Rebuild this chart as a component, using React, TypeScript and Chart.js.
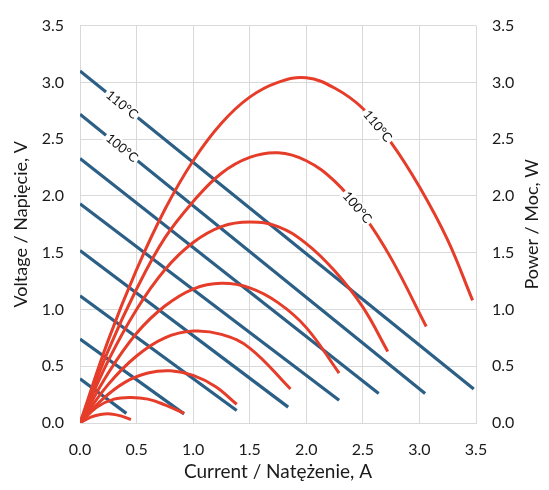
import React, { useEffect, useRef } from "react";
import { Chart, registerables } from "chart.js";

Chart.register(...registerables);

// Voltage lines: [current A, voltage V]
const voltageLine1 = [[0, 3.10], [3.48, 0.30]];
const voltageLine2 = [[0, 2.72], [3.05, 0.26]];
const voltageLine3 = [[0, 2.33], [2.64, 0.26]];
const voltageLine4 = [[0, 1.93], [2.29, 0.20]];
const voltageLine5 = [[0, 1.52], [1.84, 0.14]];
const voltageLine6 = [[0, 1.12], [1.385, 0.11]];
const voltageLine7 = [[0, 0.74], [0.92, 0.08]];
const voltageLine8 = [[0, 0.39], [0.41, 0.085]];

// Power curves: [current A, power W]
const powerCurve1 = [[0, 0], [0.25, 0.73], [0.5, 1.35], [0.75, 1.88], [1.0, 2.31], [1.25, 2.64], [1.5, 2.87], [1.75, 3.0], [2.0, 3.04], [2.25, 2.95], [2.5, 2.77], [2.75, 2.47], [3.0, 2.08], [3.25, 1.61], [3.47, 1.08]];
const powerCurve2 = [[0, 0], [0.25, 0.64], [0.5, 1.18], [0.75, 1.63], [1.0, 1.95], [1.25, 2.2], [1.5, 2.34], [1.75, 2.38], [2.0, 2.31], [2.25, 2.13], [2.5, 1.84], [2.75, 1.45], [3.06, 0.85]];
const powerCurve3 = [[0, 0], [0.25, 0.55], [0.5, 1.0], [0.75, 1.35], [1.0, 1.59], [1.25, 1.73], [1.5, 1.77], [1.75, 1.73], [2.0, 1.58], [2.25, 1.34], [2.5, 1.02], [2.72, 0.63]];
const powerCurve4 = [[0, 0], [0.25, 0.44], [0.5, 0.79], [0.75, 1.03], [1.0, 1.18], [1.25, 1.23], [1.5, 1.19], [1.75, 1.06], [2.0, 0.84], [2.29, 0.44]];
const powerCurve5 = [[0, 0], [0.25, 0.34], [0.5, 0.59], [0.75, 0.75], [1.0, 0.81], [1.25, 0.78], [1.5, 0.66], [1.86, 0.30]];
const powerCurve6 = [[0, 0], [0.2, 0.21], [0.4, 0.36], [0.6, 0.44], [0.8, 0.46], [1.0, 0.42], [1.2, 0.32], [1.385, 0.165]];
const powerCurve7 = [[0, 0], [0.15, 0.14], [0.3, 0.21], [0.45, 0.225], [0.6, 0.21], [0.75, 0.16], [0.92, 0.085]];
const powerCurve8 = [[0, 0], [0.09, 0.05], [0.18, 0.075], [0.27, 0.08], [0.36, 0.063], [0.45, 0.03]];

const voltageLines = [voltageLine1, voltageLine2, voltageLine3, voltageLine4, voltageLine5, voltageLine6, voltageLine7, voltageLine8];
const powerCurves = [powerCurve1, powerCurve2, powerCurve3, powerCurve4, powerCurve5, powerCurve6, powerCurve7, powerCurve8];

// Curve labels: text, dataset index, current at label centre
const curveLabelTexts = ["110°C", "100°C", "110°C", "100°C"];
const curveLabelDatasets = [0, 1, 8, 9];
const curveLabelCurrents = [0.37, 0.37, 2.63, 2.45];

const axisTitleX = "Current / Natężenie, A";
const axisTitleY = "Voltage / Napięcie, V";
const axisTitleY2 = "Power / Moc, W";

const FONT = "Lato, 'Open Sans', sans-serif";
const BLUE = "#2c5f86";
const RED = "#e63d2a";
const GRID = "#d9d9d9";
const TEXT = "#1a1a1a";

const toPts = (arr: number[][]) => arr.map(([x, y]) => ({ x, y }));

const labelPlugin = {
  id: "curveLabels",
  afterDatasetsDraw(chart: any) {
    const ctx = chart.ctx;
    curveLabelTexts.forEach((text, i) => {
      const ds = chart.data.datasets[curveLabelDatasets[i]];
      const xs = chart.scales.x;
      const ys = chart.scales[ds.yAxisID || "y"];
      const data = ds.data as { x: number; y: number }[];
      const cx = curveLabelCurrents[i];
      let k = 0;
      while (k < data.length - 2 && data[k + 1].x < cx) k++;
      const a = data[k], b = data[k + 1];
      const t = (cx - a.x) / (b.x - a.x);
      const cy = a.y + t * (b.y - a.y);
      const px = xs.getPixelForValue(cx);
      const py = ys.getPixelForValue(cy);
      const ang = Math.atan2(ys.getPixelForValue(b.y) - ys.getPixelForValue(a.y), xs.getPixelForValue(b.x) - xs.getPixelForValue(a.x));
      ctx.save();
      ctx.translate(px, py);
      ctx.rotate(ang);
      ctx.font = `13px ${FONT}`;
      const w = ctx.measureText(text).width;
      ctx.fillStyle = "#ffffff";
      ctx.fillRect(-w / 2 - 2, -7, w + 4, 14);
      ctx.fillStyle = "#111";
      ctx.textAlign = "center";
      ctx.textBaseline = "middle";
      ctx.fillText(text, 0, 0);
      ctx.restore();
    });
  },
  afterDraw(chart: any) {
    const ctx = chart.ctx;
    const s = chart.scales.y2;
    const ca = chart.chartArea;
    ctx.save();
    ctx.translate(s.right - 17, (ca.top + ca.bottom) / 2);
    ctx.rotate(-Math.PI / 2);
    ctx.font = `18px ${FONT}`;
    ctx.fillStyle = TEXT;
    ctx.textAlign = "center";
    ctx.textBaseline = "middle";
    ctx.fillText(axisTitleY2, 0, 0);
    ctx.restore();
  },
};

export default function App() {
  const ref = useRef<HTMLCanvasElement>(null);
  useEffect(() => {
    document.body.style.margin = "0";
    const datasets: any[] = [];
    voltageLines.forEach((l) =>
      datasets.push({
        data: toPts(l),
        borderColor: BLUE,
        borderWidth: 3.2,
        pointRadius: 0,
        showLine: true,
        yAxisID: "y",
        borderCapStyle: "butt",
        order: 2,
      })
    );
    powerCurves.forEach((c) =>
      datasets.push({
        data: toPts(c),
        borderColor: RED,
        borderWidth: 3,
        pointRadius: 0,
        showLine: true,
        yAxisID: "y2",
        tension: 0.4,
        order: 1,
      })
    );
    const tickFont = { family: FONT, size: 16 };
    const fmt = (v: any) => Number(v).toFixed(1);
    const chart = new Chart(ref.current!, {
      type: "scatter",
      data: { datasets },
      plugins: [labelPlugin],
      options: {
        animation: false,
        responsive: false,
        layout: { padding: { top: 22, left: 0, right: 0, bottom: 0 } },
        plugins: { legend: { display: false }, tooltip: { enabled: false } },
        scales: {
          x: {
            type: "linear",
            min: 0,
            max: 3.5,
            ticks: { stepSize: 0.5, callback: fmt, font: tickFont, color: TEXT, padding: 17, maxRotation: 0 },
            grid: { color: GRID, drawTicks: false },
            border: { color: GRID },
            title: { display: true, text: axisTitleX, font: { family: FONT, size: 19 }, color: TEXT, padding: { top: 0, bottom: 7 } },
            afterFit: (s: any) => { s.height = 67; },
          },
          y: {
            type: "linear",
            position: "left",
            min: 0,
            max: 3.5,
            ticks: { stepSize: 0.5, callback: fmt, font: tickFont, color: TEXT, padding: 16 },
            grid: { color: GRID, drawTicks: false },
            border: { color: GRID },
            title: { display: true, text: axisTitleY, font: { family: FONT, size: 18 }, color: TEXT, padding: { top: 10, bottom: 0 } },
            afterFit: (s: any) => { s.width = 80; },
          },
          y2: {
            type: "linear",
            position: "right",
            min: 0,
            max: 3.5,
            ticks: { stepSize: 0.5, callback: fmt, font: tickFont, color: TEXT, padding: 16 },
            grid: { display: false, drawTicks: false },
            border: { display: false },
            afterFit: (s: any) => { s.width = 73; },
          },
        },
      } as any,
    });
    return () => chart.destroy();
  }, []);
  return (
    <div style={{ position: "fixed", left: 0, top: 0, width: 549, height: 490, background: "#fff" }}>
      <canvas ref={ref} width={549} height={490} />
    </div>
  );
}
